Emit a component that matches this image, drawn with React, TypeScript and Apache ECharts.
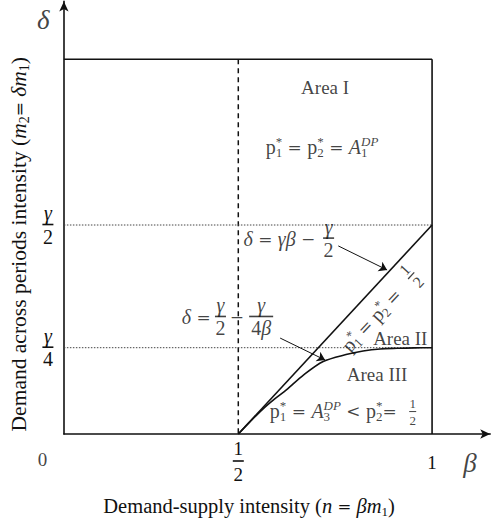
import React, { useEffect, useRef } from 'react';
import * as echarts from 'echarts';

const INK = '#111';
const SERIF = '"Liberation Serif", "Times New Roman", serif';
const MATH_OP = '"DejaVu Serif", serif';

// β runs along x, δ along y (δ expressed in units of γ/2)
const BETA_MIN = 0.05;
const BETA_MAX = 1.15;
const DELTA_MAX = 2.07;

const BETA_HALF = 0.5;
const BETA_ONE = 1;
const DELTA_TOP = 1.793;
const DELTA_HALF = 1;
const DELTA_QUARTER = 0.413;

// tick marks and their labels
const BETA_TICKS = [0.5, 1];
const BETA_TICK_TEXT = ['{xn|1}\n{fb| }\n{xd|2}', '{xu|1}'];
const DELTA_TICKS = [0.413, 1];
const DELTA_TICK_TEXT = ['{fnv|γ}\n{fb| }\n{fdu|4}', '{fnv|γ}\n{fb| }\n{fdu|2}'];

// boundary δ = γ/2 − γ/(4β) between Area II and Area III
const curveBeta = [0.5, 0.53, 0.562, 0.594, 0.624, 0.668, 0.719, 0.778, 0.822, 0.866, 0.91, 0.955, 1.0];
const curveDelta = [0, 0.058, 0.117, 0.168, 0.211, 0.282, 0.347, 0.38, 0.397, 0.407, 0.41, 0.412, 0.413];

// boundary δ = γβ − γ/2 between Area I and Area II
const diagBeta = [0.5, 1];
const diagDelta = [0, 1];

// pointer arrows from the formulas to their curves
const arrowFrom = [[0.758, 0.9], [0.608, 0.459]];
const arrowTo = [[0.884, 0.785], [0.724, 0.354]];

// text placed in the plane: [β, δ], anchor side, rotation
type Note = { text: string; at: [number, number]; side: 'center' | 'right'; rotate?: number };
const notes: Note[] = [
  { text: '{a|Area I}', at: [0.724, 1.656], side: 'center' },
  {
    text: '{u|p}{p0|*}{b|1}{o| = }{u|p}{p0|*}{b|2}{o| = }{v|A}{b0|1}{vp|DP}',
    at: [0.716, 1.373],
    side: 'center',
  },
  { text: '{v|δ}{o| = }{v|γβ}{o| − }', at: [0.714, 0.933], side: 'right' },
  { text: '{fnv|γ}\n{fb| }\n{fdu|2}', at: [0.733, 0.935], side: 'center' },
  { text: '{v|δ}{o| =}', at: [0.43, 0.56], side: 'right' },
  { text: '{fnv|γ}\n{fb| }\n{fdu|2}', at: [0.454, 0.56], side: 'center' },
  { text: '{o|−}', at: [0.496, 0.56], side: 'center' },
  { text: '{fnv|γ}\n{fbw| }\n{fdu|4}{fdv|β}', at: [0.559, 0.56], side: 'center' },
  {
    text: '{u|p}{p0|*}{b|1}{o| = }{u|p}{p0|*}{b|2}{o| =}',
    at: [0.844, 0.545],
    side: 'center',
    rotate: 47,
  },
  { text: '{mn|1}\n{mb| }\n{md|2}', at: [0.947, 0.756], side: 'center', rotate: 47 },
  { text: '{a|Area II}', at: [0.918, 0.459], side: 'center' },
  { text: '{a|Area III}', at: [0.858, 0.287], side: 'center' },
  {
    text: '{u|p}{p0|*}{b|1}{o| = }{v|A}{b0|3}{vp|DP}{o| < }{u|p}{p0|*}{b|2}{o|=  }',
    at: [0.938, 0.11],
    side: 'right',
  },
  { text: '{sn|1}\n{sb| }\n{sd|2}', at: [0.95, 0.105], side: 'center' },
  { text: '{xu|0}', at: [-0.005, -0.124], side: 'center' },
  { text: '{big|δ}', at: [-0.003, 1.981], side: 'center' },
  { text: '{big|β}', at: [1.098, -0.139], side: 'center' },
];

const base = { fontFamily: SERIF, color: INK };
const inline = { ...base, align: 'left' as const };
const mid = { ...base, align: 'center' as const };
const bar = (width: number, height: number, lineHeight: number) => ({
  ...mid,
  width,
  height,
  lineHeight,
  backgroundColor: INK,
  fontSize: 1,
});

const rich: Record<string, any> = {
  a: { ...inline, fontSize: 19, lineHeight: 22 },
  u: { ...inline, fontSize: 20, lineHeight: 24 },
  v: { ...inline, fontSize: 20, lineHeight: 24, fontStyle: 'italic' },
  o: { ...inline, fontFamily: MATH_OP, fontSize: 17, lineHeight: 24 },
  b: { ...inline, fontSize: 13, lineHeight: 14, verticalAlign: 'bottom' },
  b0: { ...inline, fontSize: 13, lineHeight: 14, verticalAlign: 'bottom', width: 0.01 },
  p0: { ...inline, fontSize: 13, lineHeight: 14, verticalAlign: 'top', width: 0.01 },
  vp: { ...inline, fontSize: 13, lineHeight: 14, verticalAlign: 'top', fontStyle: 'italic' },
  big: { ...mid, fontSize: 27, lineHeight: 30, fontStyle: 'italic' },
  fnv: { ...mid, fontSize: 20, lineHeight: 19, fontStyle: 'italic' },
  fdu: { ...mid, fontSize: 20, lineHeight: 20 },
  fdv: { ...mid, fontSize: 20, lineHeight: 20, fontStyle: 'italic' },
  fb: bar(11, 1.6, 4),
  fbw: bar(24, 1.6, 4),
  mn: { ...mid, fontSize: 16, lineHeight: 15 },
  md: { ...mid, fontSize: 16, lineHeight: 16 },
  mb: bar(9, 1.3, 3),
  sn: { ...mid, fontSize: 13, lineHeight: 13 },
  sd: { ...mid, fontSize: 13, lineHeight: 14 },
  sb: bar(7, 1, 3),
  xn: { ...mid, fontSize: 19, lineHeight: 21 },
  xd: { ...mid, fontSize: 19, lineHeight: 23 },
  xu: { ...mid, fontSize: 19, lineHeight: 22 },
  // x axis title
  t: { ...inline, fontSize: 20.5, lineHeight: 24 },
  ti: { ...inline, fontSize: 20.5, lineHeight: 24, fontStyle: 'italic' },
  to: { ...inline, fontFamily: MATH_OP, fontSize: 16.5, lineHeight: 24 },
  tb: { ...inline, fontSize: 13, lineHeight: 14, verticalAlign: 'bottom' },
  // y axis title
  y: { ...inline, fontSize: 21.5, lineHeight: 25 },
  yi: { ...inline, fontSize: 21.5, lineHeight: 25, fontStyle: 'italic' },
  yo: { ...inline, fontFamily: MATH_OP, fontSize: 17, lineHeight: 25 },
  yb: { ...inline, fontSize: 14, lineHeight: 15, verticalAlign: 'bottom' },
};

const solid = { color: INK, width: 1.6 };
const dotted = { color: '#444', width: 1, type: [1.5, 1.5] };

function segment(points: number[][], lineStyle: any, smooth: boolean | number = false) {
  return {
    type: 'line',
    data: points,
    symbol: 'none',
    smooth,
    silent: true,
    lineStyle,
    z: 3,
  };
}

function buildOption() {
  const curve = curveBeta.map((b, i) => [b, curveDelta[i]]);
  const diag = diagBeta.map((b, i) => [b, diagDelta[i]]);
  const axisLine = {
    show: true,
    onZero: false,
    symbol: ['none', 'arrow'],
    symbolSize: [7, 10],
    lineStyle: { color: INK, width: 1.6 },
  };
  return {
    animation: false,
    backgroundColor: '#fff',
    grid: { left: 63.4, right: 0.8, top: 1.4, bottom: 91, containLabel: false },
    xAxis: {
      type: 'value',
      min: BETA_MIN,
      max: BETA_MAX,
      splitLine: { show: false },
      axisTick: { show: false },
      axisLine,
      axisLabel: {
        customValues: BETA_TICKS,
        margin: 28,
        verticalAlign: 'middle',
        formatter: (v: number) => BETA_TICK_TEXT[BETA_TICKS.indexOf(v)] ?? '',
        rich,
      },
      name: '{t|Demand-supply intensity (}{ti|n}{to| = }{ti|βm}{tb|1}{t|)}',
      nameLocation: 'middle',
      nameGap: 60,
      nameTextStyle: { rich, padding: [0, 56, 0, 0] },
    },
    yAxis: {
      type: 'value',
      min: 0,
      max: DELTA_MAX,
      splitLine: { show: false },
      axisTick: { show: false },
      axisLine,
      axisLabel: {
        customValues: DELTA_TICKS,
        margin: 16,
        align: 'center',
        formatter: (v: number) => DELTA_TICK_TEXT[DELTA_TICKS.indexOf(v)] ?? '',
        rich,
      },
      name: '{y|Demand across periods intensity (}{yi|m}{yb|2}{yo|= }{yi|δm}{yb|1}{y|)}',
      nameLocation: 'middle',
      nameRotate: 90,
      nameGap: 32,
      nameTextStyle: { rich, padding: [0, 53, 0, 0] },
    },
    series: [
      segment([[BETA_MIN, DELTA_TOP], [BETA_ONE, DELTA_TOP]], solid),
      segment([[BETA_ONE, DELTA_TOP], [BETA_ONE, 0]], solid),
      segment([[BETA_HALF, DELTA_TOP], [BETA_HALF, 0]], { color: INK, width: 1.5, type: [5, 4] }),
      segment([[BETA_MIN, DELTA_HALF], [BETA_ONE, DELTA_HALF]], dotted),
      segment([[BETA_MIN, DELTA_QUARTER], [BETA_ONE, DELTA_QUARTER]], dotted),
      segment(diag, solid),
      segment(curve, solid, 0.3),
      {
        type: 'lines',
        coordinateSystem: 'cartesian2d',
        silent: true,
        symbol: ['none', 'arrow'],
        symbolSize: 8,
        lineStyle: { color: INK, width: 1, opacity: 1 },
        data: arrowFrom.map((f, i) => ({ coords: [f, arrowTo[i]] })),
        z: 4,
      },
      {
        type: 'scatter',
        clip: false,
        silent: true,
        symbolSize: 1,
        itemStyle: { color: 'rgba(0,0,0,0)' },
        z: 5,
        data: notes.map((n) => ({
          value: n.at,
          label: {
            show: true,
            position: n.side === 'right' ? 'left' : 'inside',
            distance: 0,
            rotate: n.rotate ?? 0,
            formatter: n.text,
            rich,
          },
        })),
      },
    ],
  };
}

export default function App() {
  const ref = useRef<HTMLDivElement>(null);
  useEffect(() => {
    if (!ref.current) return;
    const chart = echarts.init(ref.current, null, { renderer: 'svg' });
    chart.setOption(buildOption() as any);
    return () => chart.dispose();
  }, []);
  return (
    <div
      ref={ref}
      style={{ position: 'fixed', left: 0, top: 0, width: 491, height: 525, background: '#fff' }}
    />
  );
}
